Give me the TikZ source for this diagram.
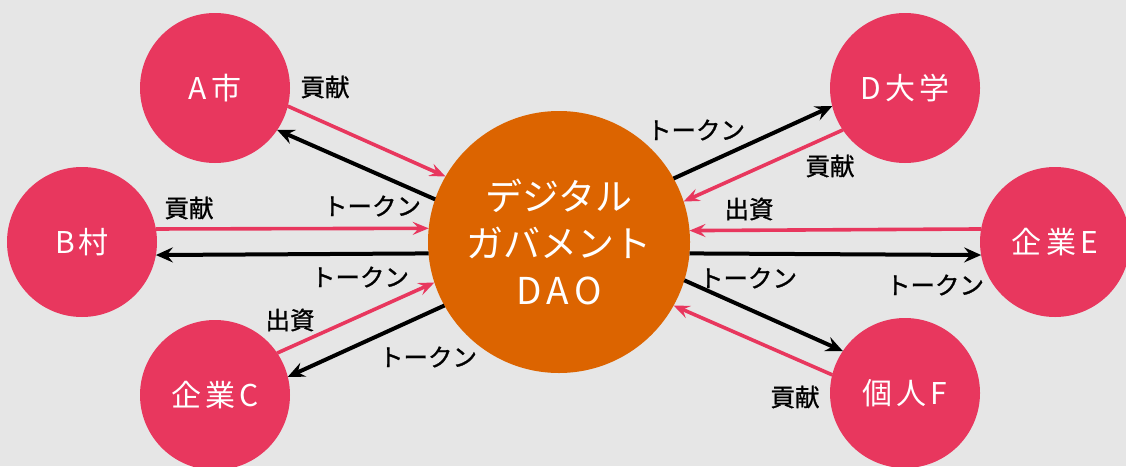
\documentclass[tikz,border=0pt]{standalone}
\usepackage{fontspec}
\newfontfamily\jp{Noto Sans CJK JP}
\newfontfamily\jpb[FakeBold=1.1]{Noto Sans CJK JP}
\newfontfamily\jpw[LetterSpace=14]{Noto Sans CJK JP}
\usetikzlibrary{arrows.meta}
\definecolor{bg}{HTML}{E6E6E6}
\definecolor{pk}{HTML}{E8375E}
\definecolor{og}{HTML}{DC6400}
\begin{document}
\begin{tikzpicture}[x=1pt,y=-1pt,
  party/.style={circle,fill=pk,minimum size=150pt,inner sep=0pt,outer sep=0pt,text=white,font=\jpw\fontsize{30}{34}\selectfont},
  hub/.style={circle,fill=og,minimum size=262pt,inner sep=0pt,outer sep=0pt,text=white,align=center,font=\jp\fontsize{37}{47}\selectfont},
  lbl/.style={font=\jpb\fontsize{24.5}{28}\selectfont,text=black,inner sep=0pt},
  pa/.style={draw=pk,line width=3.6pt,-{Stealth[length=16pt,width=13pt,inset=6pt]}},
  ba/.style={draw=black,line width=4pt,-{Stealth[length=17pt,width=15pt,inset=6pt]}}]
\fill[bg] (0,0) rectangle (1126,466);
\clip (0,0) rectangle (1126,466);
\node[hub] (dao) at (559,242) {デジタル\\ガバメント\\{\jpw DAO}};
\node[party] (a) at (215,88) {A市};
\node[party] (b) at (82,242) {B村};
\node[party] (c) at (215,395) {企業C};
\node[party] (d) at (905,88) {D大学};
\node[party] (e) at (1055,242) {企業E};
\node[party] (f) at (905,393) {個人F};
% A
\draw[pa] (a.-14) -- (dao.150.3);
\draw[ba] (dao.161.7) -- (a.-34);
% B
\draw[pa] (b.10) -- (dao.174.3);
\draw[ba] (dao.185.7) -- (b.-10);
% C
\draw[pa] (c.34) -- (dao.198.3);
\draw[ba] (dao.209.7) -- (c.14);
% D
\draw[ba] (dao.29.7) -- (d.194);
\draw[pa] (d.214) -- (dao.18.3);
% E
\draw[pa] (e.170) -- (dao.5.7);
\draw[ba] (dao.-5.7) -- (e.190);
% F
\draw[ba] (dao.-17.9) -- (f.146.4);
\draw[pa] (f.166.4) -- (dao.-29.3);
% labels
\node[lbl] (la1) at (325,87) {貢献};
\node[lbl] (la2) at (372,206) {トークン};
\node[lbl] (lb1) at (189,208) {貢献};
\node[lbl] (lb2) at (360,277) {トークン};
\node[lbl] (lc1) at (290,320) {出資};
\node[lbl] (lc2) at (428,357) {トークン};
\node[lbl] (ld1) at (696,130) {トークン};
\node[lbl] (ld2) at (830,166) {貢献};
\node[lbl] (le1) at (749,209) {出資};
\node[lbl] (le2) at (935,285) {トークン};
\node[lbl] (lf1) at (748,278) {トークン};
\node[lbl] (lf2) at (795,397) {貢献};
\end{tikzpicture}
\end{document}
